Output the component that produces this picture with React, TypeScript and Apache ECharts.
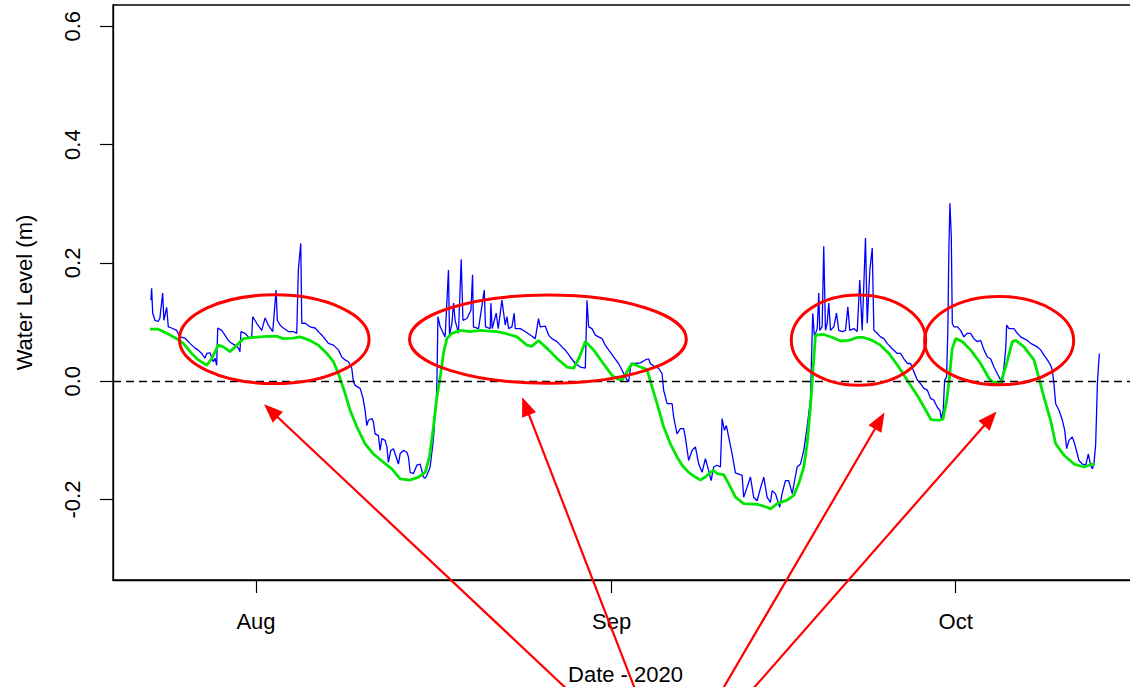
import { useEffect, useRef } from "react";
import * as echarts from "echarts";

// ---- data (days measured from 2020-08-01 00:00 UTC) ----
const blueDays = [
  -9.16, -9.1, -9.01, -8.81, -8.53, -8.38, -8.14, -8.03, -7.79, -7.65, -7.36, -6.92, -6.63, -6.2, -5.76, -5.32,
  -5.06, -4.74, -4.45, -4.3, -4.01, -3.87, -3.73, -3.58, -3.43, -3.34, -2.99, -2.71, -2.42, -2.12, -1.83, -1.54,
  -1.4, -1.31, -0.96, -0.67, -0.38, -0.29, 0.06, 0.5, 0.79, 1.07, 1.46, 1.75, 1.86, 2.09, 2.38, 2.82, 3.25, 3.55,
  3.69, 3.9, 3.99, 4.28, 4.71, 5.15, 5.58, 5.87, 6.31, 6.75, 7.18, 7.48, 7.77, 8.05, 8.35, 8.49, 8.64, 9.08, 9.31,
  9.51, 9.66, 9.8, 10.1, 10.24, 10.38, 10.67, 10.82, 10.97, 11.26, 11.41, 11.54, 11.75, 11.98, 12.22, 12.42, 12.57,
  12.85, 13.15, 13.29, 13.44, 13.73, 14.02, 14.31, 14.46, 14.6, 14.75, 14.9, 15.18, 15.42, 15.53, 15.62, 15.71,
  15.77, 15.86, 16.06, 16.49, 16.78, 16.87, 17.08, 17.22, 17.36, 17.65, 17.89, 18.04, 18.39, 18.74, 18.88, 18.96,
  19.4, 19.9, 20.01, 20.42, 20.48, 20.59, 20.94, 21.12, 21.44, 21.73, 21.88, 22.02, 22.31, 22.51, 22.6, 23.04,
  23.47, 23.91, 24.35, 24.63, 24.78, 25.22, 25.51, 25.8, 26.24, 26.68, 26.96, 27.4, 27.84, 28.27, 28.71, 28.86, 29.0,
  29.29, 29.58, 29.87, 30.17, 30.45, 30.74, 31.18, 31.61, 31.91, 32.2, 32.49, 32.7, 33.07, 33.51, 33.94, 34.23,
  34.38, 34.82, 35.11, 35.4, 35.54, 35.84, 36.28, 36.42, 36.71, 37.0, 37.29, 37.43, 37.72, 38.02, 38.31, 38.6, 38.89,
  39.18, 39.47, 39.68, 39.9, 40.2, 40.49, 40.64, 40.84, 41.01, 41.21, 41.51, 41.8, 42.38, 42.52, 42.82, 43.11, 43.39,
  43.69, 43.98, 44.27, 44.56, 44.85, 45.0, 45.29, 45.66, 45.87, 46.16, 46.45, 46.75, 47.18, 47.47, 47.76, 48.05,
  48.34, 48.43, 48.54, 48.69, 48.93, 49.07, 49.15, 49.36, 49.5, 49.65, 49.8, 49.94, 50.09, 50.38, 50.61, 50.81,
  51.11, 51.4, 51.6, 51.77, 52.12, 52.42, 52.64, 52.85, 52.99, 53.14, 53.29, 53.52, 53.73, 53.87, 54.16, 54.45,
  54.74, 55.03, 55.47, 55.91, 56.2, 56.49, 56.78, 57.07, 57.36, 57.66, 57.94, 58.23, 58.53, 58.81, 59.1, 59.4,
  59.62, 59.75, 59.92, 60.04, 60.21, 60.32, 60.41, 60.5, 60.62, 60.71, 60.85, 61.14, 61.43, 61.72, 62.02, 62.3,
  62.59, 62.89, 63.18, 63.47, 63.76, 64.05, 64.34, 64.63, 64.92, 65.07, 65.36, 65.45, 65.65, 66.08, 66.38, 66.67,
  66.96, 67.25, 67.54, 67.83, 68.12, 68.41, 68.7, 69.0, 69.28, 69.43, 69.57, 69.72, 70.01, 70.31, 70.51, 70.68,
  70.88, 71.17, 71.38, 71.61, 71.75, 72.05, 72.34, 72.57, 72.77, 72.92, 73.06, 73.21, 73.36, 73.45, 73.53,
];
const blueLevels = [
  0.137, 0.157, 0.115, 0.103, 0.101, 0.107, 0.149, 0.103, 0.125, 0.092, 0.09, 0.086, 0.075, 0.073, 0.064, 0.056,
  0.053, 0.047, 0.039, 0.047, 0.048, 0.041, 0.033, 0.039, 0.027, 0.09, 0.086, 0.078, 0.069, 0.064, 0.061, 0.056,
  0.05, 0.084, 0.081, 0.075, 0.073, 0.109, 0.098, 0.086, 0.107, 0.095, 0.084, 0.154, 0.103, 0.095, 0.09, 0.084, 0.084,
  0.081, 0.188, 0.233, 0.098, 0.098, 0.092, 0.09, 0.081, 0.075, 0.064, 0.061, 0.053, 0.041, 0.036, 0.033, 0.022,
  -0.001, -0.007, -0.012, -0.027, -0.049, -0.075, -0.066, -0.063, -0.069, -0.089, -0.092, -0.117, -0.097, -0.1,
  -0.111, -0.137, -0.117, -0.114, -0.128, -0.14, -0.122, -0.117, -0.12, -0.128, -0.154, -0.156, -0.142, -0.14,
  -0.151, -0.162, -0.164, -0.159, -0.145, -0.106, -0.083, -0.044, -0.038, -0.004, 0.109, 0.092, 0.075, 0.188, 0.078,
  0.098, 0.132, 0.103, 0.081, 0.206, 0.103, 0.106, 0.12, 0.18, 0.092, 0.089, 0.154, 0.092, 0.089, 0.132, 0.089,
  0.115, 0.089, 0.137, 0.095, 0.109, 0.089, 0.092, 0.115, 0.089, 0.089, 0.084, 0.078, 0.072, 0.106, 0.092, 0.093,
  0.078, 0.072, 0.067, 0.058, 0.053, 0.041, 0.03, 0.024, 0.022, 0.137, 0.092, 0.089, 0.078, 0.075, 0.072, 0.061,
  0.053, 0.041, 0.03, 0.019, 0.007, -0.001, 0.03, 0.03, 0.031, 0.036, 0.038, 0.03, 0.024, 0.022, 0.013, -0.015,
  -0.038, -0.038, -0.061, -0.089, -0.08, -0.08, -0.094, -0.134, -0.117, -0.111, -0.14, -0.154, -0.131, -0.151,
  -0.168, -0.145, -0.142, -0.145, -0.063, -0.083, -0.075, -0.094, -0.123, -0.155, -0.159, -0.196, -0.179, -0.162,
  -0.196, -0.202, -0.181, -0.162, -0.196, -0.205, -0.185, -0.19, -0.213, -0.19, -0.168, -0.168, -0.19, -0.145,
  -0.14, -0.117, -0.077, -0.032, 0.036, 0.115, 0.075, 0.089, 0.149, 0.086, 0.092, 0.228, 0.086, 0.098, 0.132, 0.086,
  0.092, 0.115, 0.086, 0.084, 0.086, 0.126, 0.086, 0.089, 0.084, 0.171, 0.086, 0.16, 0.242, 0.098, 0.188, 0.225,
  0.086, 0.081, 0.075, 0.072, 0.064, 0.055, 0.047, 0.047, 0.038, 0.03, 0.03, 0.016, 0.002, -0.004, -0.012, -0.015,
  -0.029, -0.032, -0.044, -0.049, -0.063, -0.049, 0.002, 0.007, 0.086, 0.222, 0.301, 0.245, 0.098, 0.092, 0.092,
  0.086, 0.075, 0.081, 0.081, 0.072, 0.067, 0.069, 0.053, 0.041, 0.038, 0.024, 0.013, 0.002, -0.003, 0.053, 0.095,
  0.089, 0.089, 0.081, 0.075, 0.072, 0.069, 0.064, 0.061, 0.058, 0.053, 0.044, 0.036, 0.027, 0.019, -0.004, -0.038,
  -0.049, -0.066, -0.083, -0.114, -0.1, -0.094, -0.106, -0.123, -0.134, -0.14, -0.142, -0.123, -0.142, -0.148,
  -0.14, -0.106, -0.004, 0.024, 0.047,
];

const greenDays = [
  -9.25, -8.53, -8.09, -7.5, -6.92, -6.34, -5.61, -5.03, -4.3, -3.87, -3.29, -2.85, -2.27, -1.68, -1.11, -0.24, 0.93,
  1.81, 2.38, 3.25, 3.84, 4.71, 5.44, 6.17, 6.75, 7.18, 7.77, 8.2, 8.79, 9.51, 10.24, 11.11, 11.84, 12.57, 13.44,
  14.16, 14.75, 15.12, 15.47, 15.77, 16.06, 16.34, 16.64, 17.08, 17.8, 18.67, 19.55, 20.13, 21.0, 21.73, 22.75,
  23.62, 24.06, 24.63, 25.51, 26.38, 27.11, 27.69, 28.21, 28.71, 29.43, 30.17, 31.04, 31.61, 31.91, 32.35, 32.78,
  33.51, 34.09, 34.53, 34.97, 35.54, 36.13, 36.71, 37.15, 37.72, 38.31, 38.74, 39.18, 39.62, 39.9, 40.2, 40.78,
  41.21, 41.8, 42.52, 43.69, 44.56, 44.85, 45.44, 46.31, 46.89, 47.32, 47.76, 48.05, 48.34, 48.58, 48.78, 49.5,
  50.38, 50.96, 51.7, 52.42, 52.99, 53.73, 54.45, 55.18, 55.93, 56.87, 57.75, 58.48, 58.86, 59.56, 59.9, 60.21,
  60.47, 60.69, 61.0, 61.58, 62.3, 63.18, 63.9, 64.2, 64.92, 65.36, 65.94, 66.23, 66.96, 67.83, 68.27, 68.7, 69.28,
  69.72, 70.45, 71.32, 72.19, 72.92, 73.12,
];
const greenLevels = [
  0.088, 0.088, 0.084, 0.078, 0.072, 0.064, 0.047, 0.036, 0.027, 0.038, 0.061, 0.058, 0.05, 0.061, 0.072, 0.074,
  0.076, 0.076, 0.072, 0.073, 0.075, 0.069, 0.061, 0.047, 0.033, 0.013, -0.021, -0.049, -0.077, -0.106, -0.123,
  -0.137, -0.148, -0.165, -0.167, -0.162, -0.154, -0.128, -0.077, -0.027, 0.007, 0.047, 0.072, 0.081, 0.086, 0.084,
  0.086, 0.085, 0.084, 0.081, 0.075, 0.061, 0.059, 0.069, 0.053, 0.036, 0.024, 0.022, 0.041, 0.067, 0.053, 0.033,
  0.01, 0.003, 0.002, 0.016, 0.03, 0.024, 0.02, -0.01, -0.038, -0.077, -0.106, -0.128, -0.142, -0.154, -0.162,
  -0.167, -0.162, -0.154, -0.151, -0.156, -0.158, -0.173, -0.196, -0.207, -0.208, -0.213, -0.216, -0.207, -0.201,
  -0.193, -0.173, -0.145, -0.106, -0.044, 0.024, 0.078, 0.079, 0.073, 0.068, 0.069, 0.074, 0.074, 0.069, 0.061,
  0.047, 0.027, -0.001, -0.027, -0.052, -0.065, -0.066, -0.064, -0.034, 0.008, 0.054, 0.072, 0.067, 0.053, 0.03,
  0.005, -0.001, -0.003, 0.024, 0.067, 0.069, 0.058, 0.036, 0.005, -0.027, -0.066, -0.106, -0.125, -0.14, -0.145,
  -0.14, -0.142,
];

const monthTickDays = [0, 31, 61];
const monthNames = ["Jan", "Feb", "Mar", "Apr", "May", "Jun", "Jul", "Aug", "Sep", "Oct", "Nov", "Dec"];
const levelTicks = [-0.2, 0, 0.2, 0.4, 0.6];

// annotations (in data units)
const ellipseCenterDays = [1.59, 25.45, 52.53, 64.79];
const ellipseCenterLevels = [0.071, 0.071, 0.0695, 0.0686];
const ellipseHalfWidthDays = [8.27, 12.07, 5.86, 6.5];
const ellipseHalfHeights = [0.075, 0.0746, 0.0763, 0.0746];
const arrowTipDays = [0.7, 23.21, 54.8, 64.57];
const arrowTipLevels = [-0.039, -0.027, -0.053, -0.051];
const arrowTailDays = [28.23, 33.45, 40.07, 42.38];
const arrowTailLevels = [-0.541, -0.541, -0.541, -0.541];

const DAY = 86400000;
const AUG1 = Date.UTC(2020, 7, 1);
const toTime = (d: number) => AUG1 + d * DAY;
const FONT = "'Liberation Sans', Arial, sans-serif";

export default function App() {
  const ref = useRef<HTMLDivElement>(null);
  useEffect(() => {
    if (!ref.current) return;
    const chart = echarts.init(ref.current, undefined, { renderer: "svg" });
    const textStyle = { fontFamily: FONT, fontSize: 22, color: "#000" };
    chart.setOption({
      animation: false,
      grid: {
        left: 113,
        top: 5,
        width: 1025,
        height: 575,
        outerBoundsMode: "none",
        containLabel: false,
        show: true,
        borderColor: "#000",
        borderWidth: 1.3,
      },
      xAxis: {
        type: "value",
        min: toTime(-12.47),
        max: toTime(76.9),
        axisLine: { show: true, onZero: false, lineStyle: { color: "#000", width: 1.3 } },
        axisTick: { show: true, length: 13, customValues: monthTickDays.map(toTime), lineStyle: { color: "#000", width: 1.2 } },
        axisLabel: {
          customValues: monthTickDays.map(toTime),
          formatter: (v: number) => monthNames[new Date(v).getUTCMonth()],
          margin: 30,
          ...textStyle,
        },
        splitLine: { show: false },
        name: "Date - 2020",
        nameLocation: "middle",
        nameGap: 83,
        nameTextStyle: textStyle,
      },
      yAxis: {
        type: "value",
        min: -0.336,
        max: 0.636,
        axisLine: { show: true, onZero: false, lineStyle: { color: "#000", width: 1.3 } },
        axisTick: { show: true, length: 13, customValues: levelTicks, lineStyle: { color: "#000", width: 1.2 } },
        axisLabel: {
          customValues: levelTicks,
          formatter: (v: number) => v.toFixed(1),
          rotate: 90,
          margin: 30,
          ...textStyle,
        },
        splitLine: { show: false },
        name: "Water Level (m)",
        nameLocation: "middle",
        nameGap: 78,
        nameRotate: 90,
        nameTextStyle: textStyle,
      },
      series: [
        {
          type: "line",
          data: blueDays.map((d, i) => [toTime(d), blueLevels[i]]),
          showSymbol: false,
          lineStyle: { color: "#0000ff", width: 1.3 },
          z: 2,
        },
        {
          type: "line",
          data: greenDays.map((d, i) => [toTime(d), greenLevels[i]]),
          showSymbol: false,
          lineStyle: { color: "#00e600", width: 2.8 },
          z: 3,
          markLine: {
            silent: true,
            symbol: ["none", "none"],
            label: { show: false },
            lineStyle: { color: "#000", type: [8, 5], width: 1.4 },
            data: [{ yAxis: 0 }],
          },
        },
      ],
    });

    const px = (d: number, v: number) => chart.convertToPixel({ gridIndex: 0 }, [toTime(d), v]) as number[];
    const graphics: any[] = [];
    ellipseCenterDays.forEach((d, i) => {
      const c = px(d, ellipseCenterLevels[i]);
      const e = px(d + ellipseHalfWidthDays[i], ellipseCenterLevels[i] + ellipseHalfHeights[i]);
      graphics.push({
        type: "ellipse",
        shape: { cx: c[0], cy: c[1], rx: Math.abs(e[0] - c[0]), ry: Math.abs(e[1] - c[1]) },
        style: { fill: "none", stroke: "#ff0000", lineWidth: 3 },
        z: 100,
      });
    });
    arrowTipDays.forEach((d, i) => {
      const tip = px(d, arrowTipLevels[i]);
      const tail = px(arrowTailDays[i], arrowTailLevels[i]);
      const dx = tip[0] - tail[0];
      const dy = tip[1] - tail[1];
      const len = Math.hypot(dx, dy);
      const ux = dx / len;
      const uy = dy / len;
      const L = 19;
      const W = 7.5;
      const bx = tip[0] - ux * L;
      const by = tip[1] - uy * L;
      graphics.push({
        type: "line",
        shape: { x1: tail[0], y1: tail[1], x2: bx + ux * 2, y2: by + uy * 2 },
        style: { stroke: "#ff0000", lineWidth: 2.2 },
        z: 100,
      });
      graphics.push({
        type: "polygon",
        shape: { points: [tip, [bx - uy * W, by + ux * W], [bx + uy * W, by - ux * W]] },
        style: { fill: "#ff0000" },
        z: 100,
      });
    });
    chart.setOption({ graphic: graphics });

    return () => chart.dispose();
  }, []);
  return (
    <div style={{ position: "fixed", left: 0, top: 0, width: 1130, height: 687, overflow: "hidden", background: "#fff" }}>
      <div ref={ref} style={{ width: 1130, height: 687 }} />
    </div>
  );
}
